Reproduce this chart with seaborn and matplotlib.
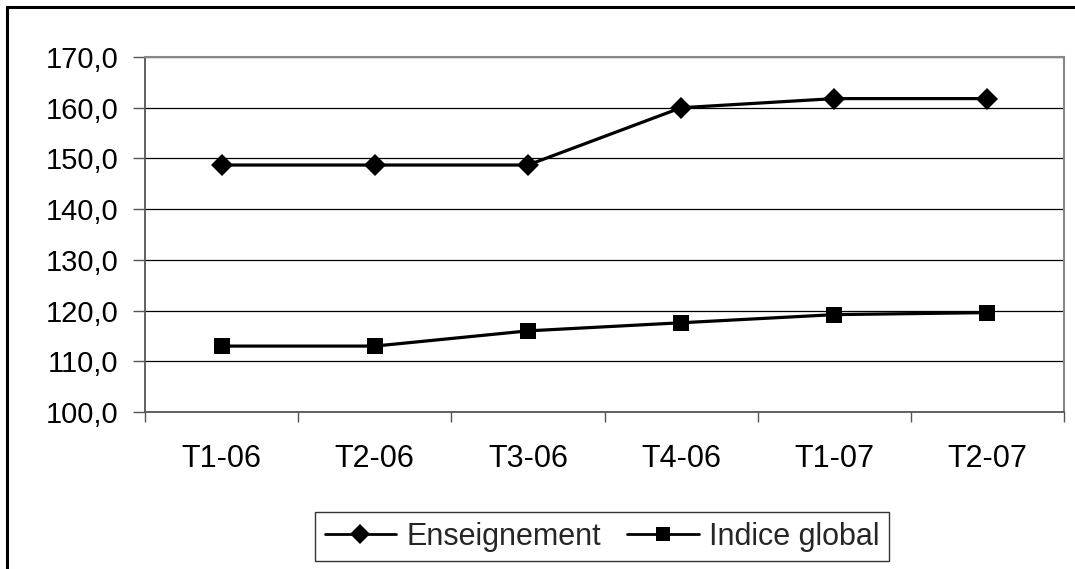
import pandas as pd
import seaborn as sns
import matplotlib.pyplot as plt
from matplotlib.lines import Line2D
from matplotlib.patches import Rectangle
from matplotlib.ticker import FixedLocator, FuncFormatter

# data
periodes = ["T1-06", "T2-06", "T3-06", "T4-06", "T1-07", "T2-07"]
enseignement = [148.7, 148.7, 148.7, 160.0, 161.8, 161.8]
indice_global = [113.0, 113.0, 116.0, 117.6, 119.2, 119.6]
y_ticks = [100, 110, 120, 130, 140, 150, 160, 170]

df = pd.DataFrame({
    "periode": periodes * 2,
    "valeur": enseignement + indice_global,
    "serie": ["Enseignement"] * 6 + ["Indice global"] * 6,
})

sns.set_style("white")
plt.rcParams["font.family"] = ["Liberation Sans", "DejaVu Sans"]

fig = plt.figure(figsize=(10.75, 5.69), dpi=100)
ax = fig.add_axes([0.1349, 0.2759, 0.9898 - 0.1349, 0.8998 - 0.2759])

sns.lineplot(data=df, x="periode", y="valeur", hue="serie", style="serie",
             markers={"Enseignement": "D", "Indice global": "s"}, dashes=False,
             palette=["black", "black"], linewidth=2.3, markersize=11,
             markeredgewidth=0, legend=False, ax=ax)

ax.set_xlim(-0.5, 5.5)
ax.set_ylim(100, 170)
ax.set_xlabel("")
ax.set_ylabel("")

ax.yaxis.set_major_locator(FixedLocator(y_ticks))
ax.yaxis.set_major_formatter(FuncFormatter(lambda v, p: f"{v:.1f}".replace(".", ",")))
ax.tick_params(axis="y", which="major", left=True, direction="out", length=9,
               width=1, color="#555555", pad=10, labelsize=21, labelcolor="black")

ax.set_xticks(range(len(periodes)))
ax.set_xticklabels(periodes)
ax.set_xticks([i - 0.5 for i in range(len(periodes) + 1)], minor=True)
ax.tick_params(axis="x", which="major", length=0, pad=23, labelsize=22, labelcolor="black")
ax.tick_params(axis="x", which="minor", bottom=True, direction="out", length=7,
               width=1, color="#555555")

ax.yaxis.grid(True, color="black", linewidth=0.9)
ax.xaxis.grid(False)

for side in ["left", "bottom"]:
    ax.spines[side].set_color("#555555")
    ax.spines[side].set_linewidth(1.3)
for side in ["top", "right"]:
    ax.spines[side].set_visible(True)
    ax.spines[side].set_color("#888888")
    ax.spines[side].set_linewidth(1.5)

handles = [
    Line2D([], [], color="black", lw=2, marker="D", markersize=10, markeredgewidth=0),
    Line2D([], [], color="black", lw=2, marker="s", markersize=10, markeredgewidth=0),
]
leg = fig.legend(handles, ["Enseignement", "Indice global"], loc="center",
                 bbox_to_anchor=(0.56, 0.057), ncol=2, fontsize=22,
                 frameon=True, fancybox=False, edgecolor="black",
                 handlelength=2.35, handletextpad=0.33, columnspacing=0.85,
                 borderpad=0.3, borderaxespad=0)
leg.get_frame().set_linewidth(1.0)

# outer chart border (only left and top are visible in the picture)
fig.patches.append(Rectangle((7 / 1075, -0.1), 1.2, 0.1 + 1 - 7 / 569,
                             transform=fig.transFigure, fill=False,
                             edgecolor="black", linewidth=2.2))

fig.savefig("out.png", dpi=100)
